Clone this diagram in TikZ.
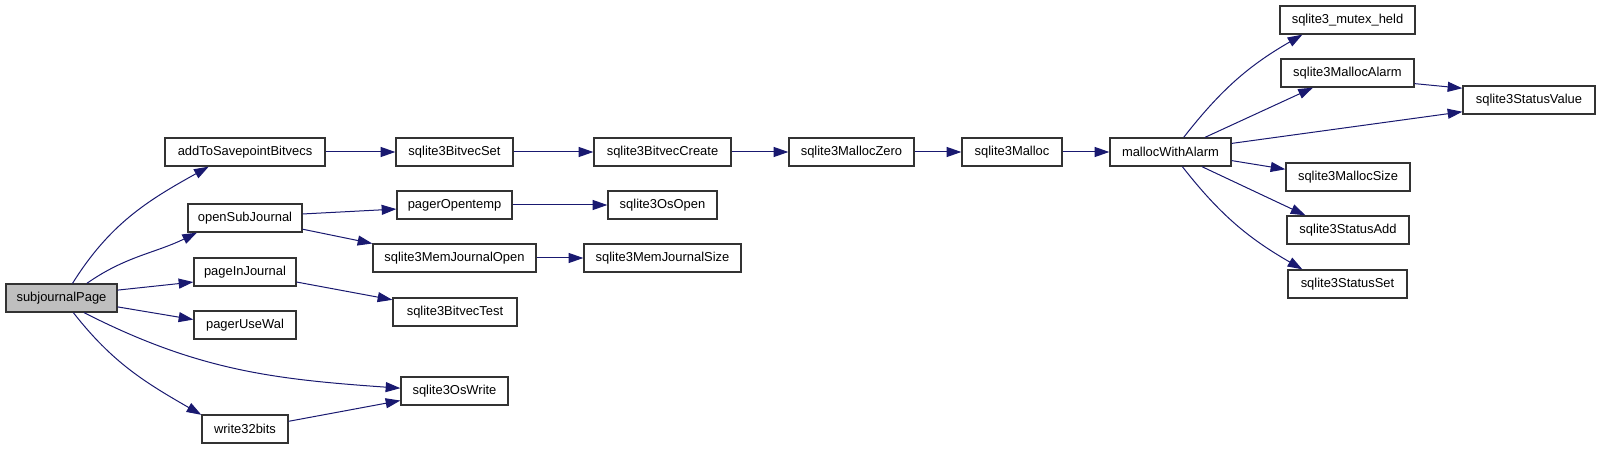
\documentclass[tikz,border=0pt]{standalone}
\usepackage{fontspec}
\setmainfont{Liberation Sans}
\usetikzlibrary{arrows.meta}
\definecolor{navyedge}{HTML}{191970}
\definecolor{focusgray}{HTML}{BFBFBF}
\definecolor{boxline}{HTML}{333333}
\begin{document}
\begin{tikzpicture}[x=0.75pt,y=-0.75pt,
  every node/.style={font=\fontsize{9.7}{11.6}\selectfont},
  fn/.style={draw=boxline,fill=white,line width=1pt,inner sep=0pt,minimum height=21pt,minimum width=#1*0.75pt},
  call/.style={draw=navyedge,line width=0.75pt,-{Triangle[length=11pt,width=7.5pt,fill=navyedge]}}]
  \useasboundingbox (0,0) rectangle (1600,449);
  % caller
  \node[fn=111,fill=focusgray] (sjp) at (61.5,298) {subjournalPage};
  % first level
  \node[fn=160] (atsb) at (245,152) {addToSavepointBitvecs};
  \node[fn=114] (osj) at (245,218) {openSubJournal};
  \node[fn=102] (pij) at (245,272) {pageInJournal};
  \node[fn=102] (puw) at (245,325) {pagerUseWal};
  \node[fn=86] (w32) at (245,429) {write32bits};
  % second level
  \node[fn=117] (bvs) at (454.5,152) {sqlite3BitvecSet};
  \node[fn=115] (pot) at (454.5,205) {pagerOpentemp};
  \node[fn=163] (mjo) at (454.5,258) {sqlite3MemJournalOpen};
  \node[fn=124] (bvt) at (455,312) {sqlite3BitvecTest};
  \node[fn=107] (osw) at (454.5,391) {sqlite3OsWrite};
  % third level
  \node[fn=137] (bvc) at (662.5,152) {sqlite3BitvecCreate};
  \node[fn=109] (oso) at (662.5,205) {sqlite3OsOpen};
  \node[fn=157] (mjs) at (662.5,258) {sqlite3MemJournalSize};
  % malloc chain
  \node[fn=125] (mz) at (851.5,152) {sqlite3MallocZero};
  \node[fn=100] (mal) at (1012,152) {sqlite3Malloc};
  \node[fn=121] (mwa) at (1170.5,152) {mallocWithAlarm};
  % leaves
  \node[fn=135] (mh) at (1347.5,20) {sqlite3\_mutex\_held};
  \node[fn=133] (ma) at (1347.5,73) {sqlite3MallocAlarm};
  \node[fn=132] (sv) at (1529,100) {sqlite3StatusValue};
  \node[fn=124] (ms) at (1348,177) {sqlite3MallocSize};
  \node[fn=122] (sa) at (1348,230) {sqlite3StatusAdd};
  \node[fn=119] (ss) at (1347.5,284) {sqlite3StatusSet};
  % calls from subjournalPage
  \draw[call] (sjp.53) to[out=58,in=209] (atsb.202);
  \draw[call] (sjp.30) to[out=35,in=206] (osj.197);
  \draw[call] (sjp.8) -- (pij.191);
  \draw[call] (sjp.351) -- (puw.174);
  \draw[call] (sjp.327) to[out=-27,in=176] (osw.177);
  \draw[call] (sjp.309) to[out=-52,in=150] (w32.162);
  % the rest
  \draw[call] (atsb.east) -- (bvs.west);
  \draw[call] (osj.4) -- (pot.184);
  \draw[call] (osj.349) -- (mjo.170);
  \draw[call] (pij.349) -- (bvt.169);
  \draw[call] (w32.10) -- (osw.190);
  \draw[call] (bvs.east) -- (bvc.west);
  \draw[call] (pot.east) -- (oso.west);
  \draw[call] (mjo.east) -- (mjs.west);
  \draw[call] (bvc.east) -- (mz.west);
  \draw[call] (mz.east) -- (mal.west);
  \draw[call] (mal.east) -- (mwa.west);
  \draw[call] (mwa.48) to[out=52,in=210] (mh.198);
  \draw[call] (mwa.23) -- (ma.203);
  \draw[call] (mwa.8) -- (sv.190);
  \draw[call] (mwa.352) -- (ms.173);
  \draw[call] (mwa.335) -- (sa.161);
  \draw[call] (mwa.309) to[out=-52,in=150] (ss.162);
  \draw[call] (ma.351) -- (sv.170);
\end{tikzpicture}
\end{document}
